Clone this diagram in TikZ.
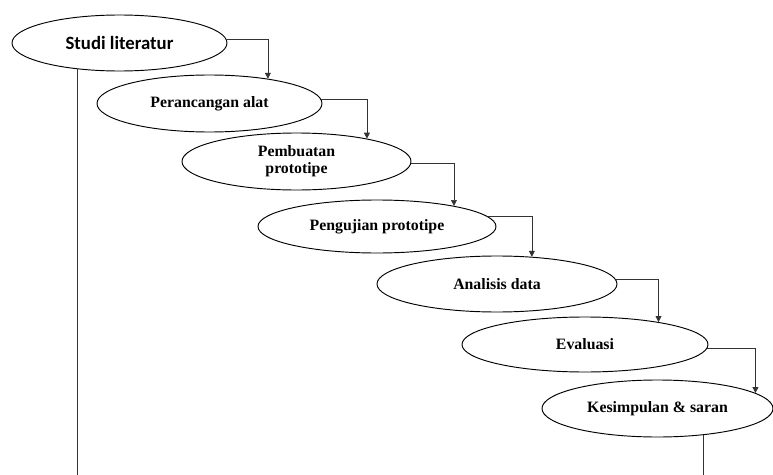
\documentclass[tikz,border=0pt]{standalone}
\usepackage{fontspec}
\setmainfont{Liberation Serif}
\newfontfamily\studifont{Carlito}
\usetikzlibrary{arrows.meta,shapes.geometric}
\begin{document}
\begin{tikzpicture}[x=0.03cm,y=-0.03cm,
  stage/.style={draw=black,line width=0.8pt,ellipse,inner sep=0pt,align=center,
    font=\fontsize{13.5}{14.5}\selectfont\bfseries},
  conn/.style={draw=black!80,line width=0.6pt},
  arr/.style={conn,-{Triangle[width=5pt,length=5pt]}}]
\path[use as bounding box,fill=white] (0,0) rectangle (773,475);
\node[stage,minimum width=6.45cm,minimum height=1.68cm,font=\studifont\fontsize{16}{18}\selectfont\bfseries] (s) at (119.5,43) {Studi literatur};
\node[stage,minimum width=6.75cm,minimum height=1.71cm] (p) at (209.5,103.5) {Perancangan alat};
\node[stage,minimum width=6.87cm,minimum height=1.71cm] (b) at (296.5,161.5) {Pembuatan\\prototipe};
\node[stage,minimum width=7.14cm,minimum height=1.59cm] (u) at (377,226.5) {Pengujian prototipe};
\node[stage,minimum width=7.2cm,minimum height=1.68cm] (a) at (497,284) {Analisis data};
\node[stage,minimum width=7.38cm,minimum height=1.65cm] (e) at (585,344.5) {Evaluasi};
\node[stage,minimum width=6.93cm,minimum height=1.71cm] (k) at (657.5,408.5) {Kesimpulan \& saran};
\coordinate (bl) at (0,475);
\draw[arr] (s.2.2) -| (p.23.1);
\draw[arr] (p.2.3) -| (b.18.8);
\draw[arr] (b.-1.8) -| (u.15);
\draw[arr] (u.5.2) -| (a.38.3);
\draw[arr] (a.2) -| (e.17.2);
\draw[arr] (e.-2.6) -| (k.9.8);
\draw[conn,line width=0.8pt] (s.212) -- (s.212 |- bl);
\draw[conn,line width=0.8pt] (k.-30.6) -- (k.-30.6 |- bl);
\end{tikzpicture}
\end{document}
